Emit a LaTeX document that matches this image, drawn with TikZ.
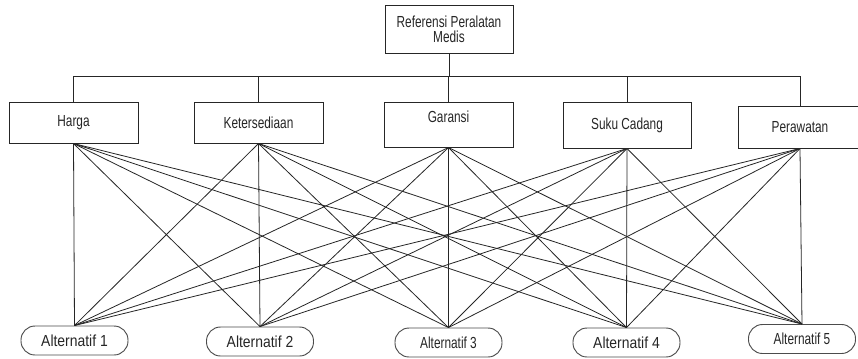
\documentclass[tikz,border=0pt]{standalone}
\usepackage{fontspec}
\setmainfont{Liberation Sans}
% condensed cuts of the sans face
\newfontfamily\narrowA[FakeStretch=0.74]{Liberation Sans}
\newfontfamily\narrowB[FakeStretch=0.87]{Liberation Sans}
\begin{document}
\begin{tikzpicture}[x=0.75pt,y=-0.75pt,
  box/.style={draw=black!85,line width=0.75pt,inner sep=0pt,text=black!85,align=center,
    font=\narrowA\fontsize{12pt}{11.25pt}\selectfont},
  alt/.style={draw=black!70,line width=0.7pt,rounded corners=10.5pt,inner sep=0pt,
    minimum width=80.25pt,minimum height=21.75pt,text=black!85,
    font=\narrowA\fontsize{12pt}{14pt}\selectfont},
  wide/.style={font=\narrowB\fontsize{12pt}{14pt}\selectfont},
  link/.style={draw=black!85,line width=0.6pt},
  tree/.style={draw=black!85,line width=0.75pt}]
\useasboundingbox (0,0) rectangle (858,358);
\fill[white] (0,0) rectangle (858,358);

% goal
\node[box,minimum width=96pt,minimum height=36pt] (top) at (449,29)
  {Referensi Peralatan\\Medis};

% criteria
\node[box,minimum width=96.75pt,minimum height=30.75pt] (harga) at (73.5,122.5) {Harga};
\node[box,minimum width=96.75pt,minimum height=30.75pt] (ket) at (258.5,122.5) {Ketersediaan};
\node[box,minimum width=96.75pt,minimum height=33.75pt,text depth=12pt] (gar) at (448.5,124.5) {Garansi};
\node[box,minimum width=96pt,minimum height=34.5pt] (suku) at (627,125) {Suku Cadang};
\node[box,minimum width=93pt,minimum height=31.5pt] (pera) at (800,127) {Perawatan};

% alternatives
\node[alt,wide] (a1) at (74.5,340.5) {Alternatif 1};
\node[alt,wide] (a2) at (260,341.5) {Alternatif 2};
\node[alt] (a3) at (448.5,342.5) {Alternatif 3};
\node[alt,wide] (a4) at (626.5,342.5) {Alternatif 4};
\node[alt] (a5) at (802,339) {Alternatif 5};

% hierarchy bar
\coordinate (bar) at (449,76);
\draw[tree] (top.south) -- (top.south |- bar);
\draw[tree] (harga.north) |- (pera.north |- bar) -- (pera.north);
\foreach \n in {ket,gar,suku}
  \draw[tree] (\n.north) -- (\n.north |- bar);

% every criterion linked to every alternative
\foreach \c in {harga,ket,gar,suku,pera}
  \foreach \a in {a1,a2,a3,a4,a5}
    \draw[link] (\c.south) -- (\a.north);
\end{tikzpicture}
\end{document}
